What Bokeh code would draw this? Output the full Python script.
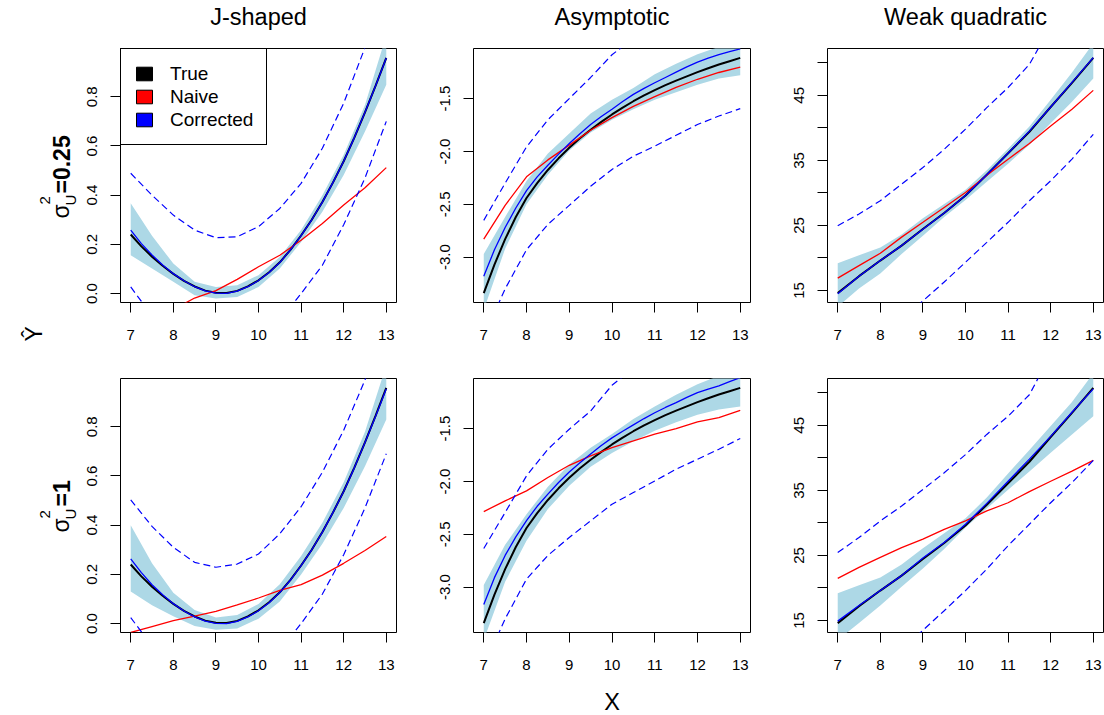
import math
from bokeh.plotting import figure
from bokeh.models import Range1d, FixedTicker, Label, Legend, LegendItem
from bokeh.layouts import row, column
from bokeh.embed import file_html
from bokeh.resources import INLINE

# ---------------- data ----------------
X = [7, 7.5, 8, 8.5, 9, 9.5, 10, 10.5, 11, 11.5, 12, 12.5, 13]
XF = [7, 7.25, 7.5, 7.75, 8, 8.25, 8.5, 8.75, 9, 9.25, 9.5, 9.75, 10,
      10.25, 10.5, 10.75, 11, 11.25, 11.5, 11.75, 12, 12.25, 12.5, 12.75, 13]
X_TICKS = [7, 8, 9, 10, 11, 12, 13]
X_TICK_LABELS = ["7", "8", "9", "10", "11", "12", "13"]

COL_TITLES = ["J-shaped", "Asymptotic", "Weak quadratic"]
ROW_VALUES = ["0.25", "1"]
LEGEND_LABELS = ["True", "Naive", "Corrected"]
LEGEND_COLORS = ["black", "red", "blue"]

# J-shaped (true / corrected on the fine grid XF, others on X)
j_true = [0.240, 0.192, 0.150, 0.113, 0.080, 0.052, 0.029, 0.012, 0.003, 0.002, 0.011, 0.029, 0.054,
          0.087, 0.127, 0.178, 0.236, 0.300, 0.372, 0.452, 0.538, 0.634, 0.737, 0.845, 0.958]
j_corr_top = [0.258, 0.203, 0.157, 0.116, 0.081, 0.052, 0.028, 0.011, 0.002, 0.001, 0.010, 0.028, 0.053,
              0.086, 0.126, 0.178, 0.236, 0.300, 0.372, 0.452, 0.538, 0.634, 0.737, 0.845, 0.958]
j_corr_bot = [0.263, 0.207, 0.158, 0.117, 0.081, 0.051, 0.027, 0.010, 0.001, 0.000, 0.009, 0.027, 0.052,
              0.085, 0.126, 0.177, 0.236, 0.300, 0.372, 0.452, 0.537, 0.633, 0.736, 0.843, 0.955]
j_naive_top = [-0.13, -0.10, -0.065, -0.018, 0.012, 0.058, 0.109, 0.156, 0.217, 0.285, 0.36, 0.43, 0.512]
j_naive_bot = [-0.036, -0.012, 0.012, 0.030, 0.050, 0.076, 0.104, 0.135, 0.158, 0.197, 0.245, 0.297, 0.354]
j_band_lo_top = [0.156, 0.102, 0.048, -0.007, -0.02, -0.014, 0.027, 0.102, 0.21, 0.333, 0.482, 0.659, 0.849]
j_band_hi_top = [0.367, 0.235, 0.122, 0.048, 0.027, 0.034, 0.075, 0.149, 0.258, 0.40, 0.564, 0.767, 1.05]
j_band_lo_bot = [0.13, 0.075, 0.03, -0.01, -0.025, -0.02, 0.02, 0.09, 0.2, 0.325, 0.47, 0.64, 0.83]
j_band_hi_bot = [0.40, 0.245, 0.125, 0.055, 0.025, 0.035, 0.08, 0.16, 0.275, 0.41, 0.575, 0.78, 1.05]
j_up_top = [0.489, 0.40, 0.319, 0.258, 0.227, 0.231, 0.272, 0.346, 0.448, 0.591, 0.774, 1.0, 1.25]
j_lo_top = [0.027, -0.09, -0.17, -0.22, -0.24, -0.22, -0.17, -0.11, 0.0, 0.115, 0.28, 0.47, 0.70]
j_up_bot = [0.503, 0.395, 0.31, 0.249, 0.229, 0.242, 0.283, 0.365, 0.475, 0.615, 0.786, 0.99, 1.25]
j_lo_bot = [0.024, -0.09, -0.17, -0.22, -0.24, -0.22, -0.17, -0.11, 0.0, 0.12, 0.28, 0.47, 0.69]
j_yticks = [0.0, 0.2, 0.4, 0.6, 0.8]
j_ylabels = ["0.0", "0.2", "0.4", "0.6", "0.8"]

# Asymptotic
a_true = [-3.34, -3.07, -2.83, -2.62, -2.44, -2.30, -2.175, -2.065, -1.965, -1.875, -1.795, -1.72, -1.65,
          -1.585, -1.525, -1.47, -1.42, -1.373, -1.33, -1.29, -1.25, -1.213, -1.178, -1.146, -1.115]
a_corr_top = [-3.18, -2.93, -2.72, -2.535, -2.37, -2.24, -2.13, -2.025, -1.925, -1.832, -1.745, -1.67, -1.60,
              -1.528, -1.46, -1.403, -1.35, -1.30, -1.25, -1.20, -1.155, -1.118, -1.085, -1.056, -1.03]
a_corr_bot = [-3.165, -2.91, -2.70, -2.525, -2.37, -2.235, -2.12, -2.01, -1.91, -1.822, -1.74, -1.66, -1.588,
              -1.525, -1.465, -1.405, -1.35, -1.30, -1.254, -1.205, -1.16, -1.127, -1.095, -1.055, -1.018]
a_naive_top = [-2.83, -2.51, -2.24, -2.08, -1.94, -1.80, -1.68, -1.573, -1.482, -1.393, -1.317, -1.253, -1.203]
a_naive_bot = [-2.285, -2.184, -2.089, -1.963, -1.847, -1.758, -1.68, -1.617, -1.553, -1.50, -1.437, -1.396, -1.327]
a_band_lo_top = [-3.50, -2.92, -2.50, -2.22, -1.99, -1.82, -1.70, -1.60, -1.51, -1.44, -1.37, -1.31, -1.28]
a_band_hi_top = [-2.97, -2.62, -2.28, -2.02, -1.83, -1.64, -1.51, -1.40, -1.27, -1.17, -1.08, -1.01, -0.97]
a_band_lo_bot = [-3.50, -2.95, -2.56, -2.26, -2.04, -1.86, -1.73, -1.62, -1.52, -1.44, -1.37, -1.32, -1.29]
a_band_hi_bot = [-2.98, -2.60, -2.31, -2.05, -1.84, -1.68, -1.55, -1.41, -1.29, -1.18, -1.08, -1.00, -0.96]
a_up_top = [-2.652, -2.30, -1.957, -1.70, -1.50, -1.30, -1.085, -0.93, -0.80, -0.70, -0.62, -0.55, -0.48]
a_lo_top = [-3.75, -3.30, -2.93, -2.69, -2.51, -2.33, -2.17, -2.045, -1.95, -1.847, -1.745, -1.665, -1.595]
a_up_bot = [-2.634, -2.294, -1.947, -1.695, -1.506, -1.333, -1.09, -0.93, -0.80, -0.70, -0.62, -0.55, -0.48]
a_lo_bot = [-3.75, -3.30, -2.924, -2.70, -2.53, -2.373, -2.215, -2.105, -1.995, -1.884, -1.79, -1.695, -1.594]
a_yticks = [-3.0, -2.5, -2.0, -1.5]
a_ylabels = ["-3.0", "-2.5", "-2.0", "-1.5"]

# Weak quadratic (all on X)
w_true = [14.6, 17.2, 19.6, 21.9, 24.45, 26.9, 29.6, 32.8, 36.1, 39.4, 43.2, 46.9, 50.75]
w_corr_top = [14.5, 17.2, 19.6, 21.9, 24.4, 26.9, 29.6, 32.8, 36.1, 39.5, 43.2, 47.0, 50.8]
w_corr_bot = [14.9, 17.3, 19.6, 21.9, 24.6, 27.0, 29.8, 33.0, 36.4, 39.8, 43.3, 47.0, 50.6]
w_naive_top = [16.9, 18.83, 20.72, 23.2, 25.48, 27.77, 30.07, 32.7, 35.18, 37.6, 40.3, 42.85, 45.76]
w_naive_bot = [21.48, 23.16, 24.7, 26.2, 27.5, 29.0, 30.3, 31.84, 33.1, 34.8, 36.4, 37.96, 39.6]
w_band_lo_top = [12.5, 15.3, 17.6, 20.6, 23.4, 26.3, 28.9, 31.7, 34.5, 37.4, 40.7, 44.0, 47.6]
w_band_hi_top = [19.2, 20.4, 21.6, 23.6, 26.1, 28.3, 30.5, 33.5, 36.8, 40.2, 44.3, 48.5, 53.0]
w_band_lo_bot = [12.0, 14.6, 17.3, 20.2, 23.0, 26.0, 29.3, 32.2, 35.1, 37.9, 40.8, 43.6, 46.4]
w_band_hi_bot = [19.2, 20.4, 21.6, 23.6, 26.1, 28.4, 30.7, 33.9, 37.6, 41.2, 44.9, 48.6, 53.0]
w_up_top = [24.96, 26.75, 28.8, 31.35, 33.9, 36.7, 39.8, 43.1, 46.2, 49.75, 55.6, 59.0, 62.5]
w_lo_top = [3.5, 5.7, 8.0, 10.5, 13.4, 16.3, 19.35, 22.4, 25.48, 28.8, 31.86, 35.2, 39.0]
w_up_bot = [25.46, 27.75, 30.3, 32.6, 35.15, 37.7, 40.5, 43.6, 46.4, 49.7, 55.9, 59.0, 62.5]
w_lo_bot = [3.5, 5.7, 8.0, 10.5, 13.5, 16.5, 19.6, 22.9, 26.5, 29.8, 33.1, 36.2, 39.6]
w_yticks = [15, 20, 25, 30, 35, 40, 45, 50]
w_ylabels = ["15", "", "25", "", "35", "", "45", ""]

# ---------------- styling / layout ----------------
FONT = "Liberation Sans"
BAND = "#ADD8E6"
FRAME_H = 254
TICK_FONT = "15px"
LEFT_W = 80          # left strip (row labels, Y-hat)
TOP_H = 35           # top strip (column titles)
BOTTOM_H = 40        # bottom strip (X label)
TOTAL_W, TOTAL_H = 1104, 715
BASE_SHIFT = 0.35    # label anchor correction (fraction of font size)

# column geometry: (frame_width, min_border_left, min_border_right)
COLS = [(276, 40, 36), (277, 41, 38), (276, 39, 1)]
ROWS = [(13, 43), (33, 43)]  # (top, bottom)


def make_panel(fw, left, right, top, bottom, xm, band_lo, band_hi, true, naive, corr,
               d_lo, d_up, yticks, ylabels):
    ylo, yhi = min(true), max(true)
    yext = 0.04 * (yhi - ylo)
    xlo, xhi = min(X), max(X)
    xext = 0.04 * (xhi - xlo)
    p = figure(frame_width=fw, frame_height=FRAME_H, title=None,
               min_border_left=left, min_border_right=right,
               min_border_top=top, min_border_bottom=bottom,
               x_range=Range1d(xlo - xext, xhi + xext),
               y_range=Range1d(ylo - yext, yhi + yext),
               output_backend="svg", toolbar_location=None)
    p.xgrid.visible = False
    p.ygrid.visible = False
    p.background_fill_color = "white"
    p.border_fill_color = "white"
    p.outline_line_color = "black"
    p.outline_line_width = 1
    p.outline_line_alpha = 1

    p.varea(x=X, y1=band_lo, y2=band_hi, fill_color=BAND, fill_alpha=1)
    p.line(xm, true, line_color="black", line_width=2)
    p.line(X, naive, line_color="red", line_width=1.3)
    p.line(xm, corr, line_color="blue", line_width=1.3)
    p.line(X, d_up, line_color="blue", line_width=1.2, line_dash="7 4")
    p.line(X, d_lo, line_color="blue", line_width=1.2, line_dash="7 4")

    p.xaxis.ticker = FixedTicker(ticks=X_TICKS)
    p.xaxis.major_label_overrides = {t: s for t, s in zip(X_TICKS, X_TICK_LABELS)}
    p.yaxis.ticker = FixedTicker(ticks=yticks)
    p.yaxis.major_label_overrides = {t: s for t, s in zip(yticks, ylabels)}
    p.yaxis.major_label_orientation = "vertical"
    for ax in (p.xaxis[0], p.yaxis[0]):
        ax.axis_line_color = None
        ax.major_tick_line_color = "black"
        ax.major_tick_line_width = 1
        ax.major_tick_out = 10
        ax.major_tick_in = 0
        ax.minor_tick_line_color = None
        ax.major_label_text_font = FONT
        ax.major_label_text_font_size = TICK_FONT
        ax.major_label_text_color = "black"
    p.xaxis.major_label_standoff = 17
    p.yaxis.major_label_standoff = 13
    return p


def text_strip(w, h, x0, y_top):
    """Blank figure whose data coordinates equal page pixels (y measured down)."""
    s = figure(width=w, height=h, title=None,
               x_range=Range1d(x0, x0 + w), y_range=Range1d(y_top + h, y_top),
               min_border=0, x_axis_location=None, y_axis_location=None,
               output_backend="svg", toolbar_location=None)
    s.xgrid.visible = False
    s.ygrid.visible = False
    s.outline_line_color = None
    s.background_fill_color = "white"
    s.border_fill_color = "white"
    return s


def lab(s, x, y, text, size, angle=0.0, align="left", style="normal"):
    """Place text with its baseline at (x, y) in page pixels."""
    px = float(size.replace("px", ""))
    if angle:
        x = x - BASE_SHIFT * px
    else:
        y = y - BASE_SHIFT * px
    s.add_layout(Label(x=x, y=y, text=text, angle=angle, text_align=align,
                       text_baseline="alphabetic", text_font=FONT, text_font_size=size,
                       text_font_style=style, text_color="black"))


data = [
    [
        (XF, j_band_lo_top, j_band_hi_top, j_true, j_naive_top, j_corr_top, j_lo_top, j_up_top, j_yticks, j_ylabels),
        (XF, a_band_lo_top, a_band_hi_top, a_true, a_naive_top, a_corr_top, a_lo_top, a_up_top, a_yticks, a_ylabels),
        (X, w_band_lo_top, w_band_hi_top, w_true, w_naive_top, w_corr_top, w_lo_top, w_up_top, w_yticks, w_ylabels),
    ],
    [
        (XF, j_band_lo_bot, j_band_hi_bot, j_true, j_naive_bot, j_corr_bot, j_lo_bot, j_up_bot, j_yticks, j_ylabels),
        (XF, a_band_lo_bot, a_band_hi_bot, a_true, a_naive_bot, a_corr_bot, a_lo_bot, a_up_bot, a_yticks, a_ylabels),
        (X, w_band_lo_bot, w_band_hi_bot, w_true, w_naive_bot, w_corr_bot, w_lo_bot, w_up_bot, w_yticks, w_ylabels),
    ],
]

figs = []
for ri, (top, bottom) in enumerate(ROWS):
    rfigs = []
    for ci, (fw, left, right) in enumerate(COLS):
        rfigs.append(make_panel(fw, left, right, top, bottom, *data[ri][ci]))
    figs.append(rfigs)

# legend in the first panel (NaN quads: nothing drawn, swatches only)
p0 = figs[0][0]
nan = float("nan")
items = []
for labtxt, col in zip(LEGEND_LABELS, LEGEND_COLORS):
    r = p0.quad(left=[nan], right=[nan], top=[nan], bottom=[nan], fill_color=col, line_color="black")
    items.append(LegendItem(label=labtxt, renderers=[r]))
legend = Legend(items=items, location="top_left", margin=0, padding=13, spacing=0,
                label_height=23, glyph_height=17, glyph_width=20, label_standoff=16,
                border_line_color="black", border_line_width=1, border_line_alpha=1,
                background_fill_color="white", background_fill_alpha=1,
                label_text_font=FONT, label_text_font_size="19px", label_text_color="black")
p0.add_layout(legend)

# page-level text strips
right_w = TOTAL_W - LEFT_W
top_strip = text_strip(right_w, TOP_H, LEFT_W, 0)
offs = [LEFT_W]
for fw, l, r in COLS[:-1]:
    offs.append(offs[-1] + l + fw + r)
centers = [o + c[1] + c[0] / 2 for o, c in zip(offs, COLS)]
for cx, t in zip(centers, COL_TITLES):
    lab(top_strip, cx, 25, t, "23.5px", align="center")

bottom_strip = text_strip(right_w, BOTTOM_H, LEFT_W, TOTAL_H - BOTTOM_H)
lab(bottom_strip, centers[1], 710, "X", "23.5px", align="center")

left_strip = text_strip(LEFT_W, TOTAL_H, 0, 0)
up = math.pi / 2
for (ys, yu, y2, ye), val in zip([(218, 205, 204, 193), (532, 519, 518, 506)], ROW_VALUES):
    lab(left_strip, 69, ys, "\u03c3", "23px", angle=up)
    lab(left_strip, 75, yu, "U", "15px", angle=up)
    lab(left_strip, 50, y2, "2", "15px", angle=up)
    lab(left_strip, 70, ye, "=" + val, "23px", angle=up, style="bold")
lab(left_strip, 42, 341, "\u0176", "23px", angle=up)

right_part = column(top_strip, row(*figs[0], spacing=0), row(*figs[1], spacing=0),
                    bottom_strip, spacing=0)
layout = row(left_strip, right_part, spacing=0)
open("out.html", "w").write(file_html(layout, INLINE))
